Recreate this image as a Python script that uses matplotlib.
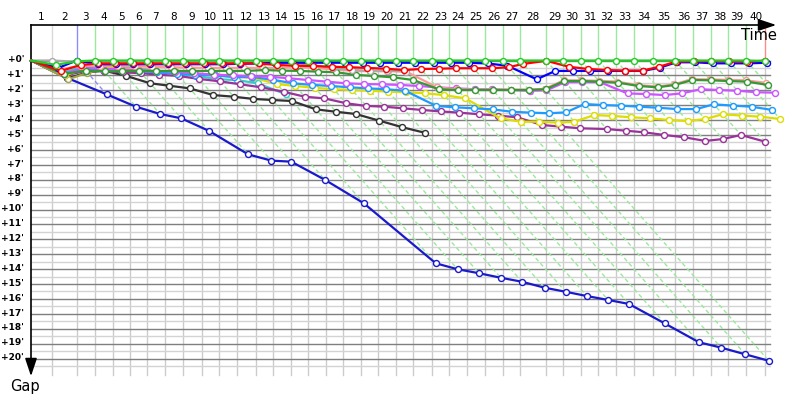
import numpy as np
import matplotlib
matplotlib.use("Agg")
import matplotlib.pyplot as plt
from matplotlib.colors import to_rgb

# ---------------- data ----------------
lap_labels = [str(i) for i in range(1, 41)]
# cumulative time of the lap leader at the end of each lap (minutes), lap 0 = start
leader_times = [0, 1.57, 3.46, 4.85, 6.19, 7.5, 8.77, 10.15, 11.49, 12.93, 14.27,
                15.63, 17.05, 18.31, 19.67, 21.01, 22.35, 23.66, 24.98, 26.31, 27.65,
                28.96, 30.36, 31.69, 33.01, 34.39, 35.74, 37.05, 39.02, 40.33, 41.64,
                42.98, 44.32, 45.68, 47.14, 48.79, 50.17, 51.49, 52.83, 54.17, 55.61]
gap_ticks = list(range(0, 21))
gap_tick_labels = ["+%d'" % m for m in gap_ticks]

# gap (minutes) to the leader at the end of each lap, starting at lap 0
gap_green = [0, 0.3, 0.05] + [0] * 37 + [0.03]
gap_red = [0, 0.7, 0.3, 0.2, 0.2, 0.2, 0.2, 0.2, 0.2, 0.2, 0.2, 0.2, 0.2, 0.3, 0.35,
           0.37, 0.42, 0.45, 0.5, 0.55, 0.64, 0.57, 0.55, 0.52, 0.52, 0.52, 0.45,
           0.23, 0.02, 0.42, 0.57, 0.64, 0.68, 0.68, 0.42, 0.08, 0.05, 0.05, 0.05,
           0.1, 0.0]
gap_blue = [0, 0.5, 0.0, 0.25, 0.25, 0.25, 0.25, 0.25, 0.25, 0.25, 0.25, 0.22, 0.2,
            0.15, 0.15, 0.15, 0.15, 0.15, 0.15, 0.15, 0.15, 0.15, 0.15, 0.15, 0.15,
            0.2, 0.35, 1.26, 0.7, 0.7, 0.7, 0.7, 0.7, 0.7, 0.48, 0.12, 0.12, 0.19,
            0.19, 0.19, 0.15]
gap_dark_green = [0, 0.9, 0.68, 0.72, 0.72, 0.7, 0.7, 0.7, 0.7, 0.7, 0.7, 0.7, 0.64,
                  0.68, 0.7, 0.75, 0.79, 0.97, 1.04, 1.13, 1.31, 1.93, 1.98, 1.98,
                  1.98, 1.98, 1.98, 1.93, 1.38, 1.38, 1.42, 1.49, 1.71, 1.8, 1.64,
                  1.31, 1.33, 1.38, 1.42, 1.64]
gap_grey = [0, 0.0, 0.08, 0.1, 0.1, 0.1, 0.1, 0.1, 0.1, 0.08, 0.1, 0.1, 0.1, 0.15,
            0.15, 0.3, 0.52, 0.64, 0.68, 0.68, 0.75]
gap_salmon = [0, 0.6, 0.35, 0.35, 0.38, 0.4, 0.42, 0.45, 0.48, 0.5, 0.5, 0.5, 0.5,
              0.5, 0.45, 0.5, 0.6, 0.7, 0.72, 0.72, 0.72, 1.8, 1.93, 1.95, 1.95,
              1.95, 1.95, 1.9, 1.33, 1.33, 1.36, 1.42, 1.65, 1.75, 1.6, 1.25, 1.27,
              1.3, 1.33, 1.5]
gap_violet = [0, 0.9, 0.5, 0.55, 0.6, 0.65, 0.7, 0.75, 0.85, 0.95, 1.0, 1.05, 1.09,
              1.19, 1.31, 1.42, 1.53, 1.58, 1.6, 1.64, 1.71, 1.8, 1.87, 1.93, 1.93,
              1.98, 2.03, 2.0, 1.45, 1.45, 1.45, 2.21, 2.25, 2.32, 2.2, 1.93, 1.98,
              2.03, 2.13, 2.16]
gap_light_blue = [0, 0.9, 0.55, 0.6, 0.65, 0.7, 0.8, 0.9, 0.95, 1.0, 1.1, 1.1, 1.3,
                  1.53, 1.64, 1.71, 1.8, 1.87, 1.93, 2.03, 3.05, 3.14, 3.21, 3.28,
                  3.44, 3.5, 3.54, 3.48, 2.92, 2.99, 3.03, 3.1, 3.17, 3.26, 3.26,
                  2.94, 3.03, 3.1, 3.32]
gap_yellow = [0, 1.0, 0.55, 0.5, 0.55, 0.6, 0.7, 0.8, 0.9, 0.95, 1.05, 1.13, 1.58,
              1.71, 1.83, 1.93, 1.98, 2.03, 2.09, 2.13, 2.2, 2.32, 2.54, 3.88, 4.11,
              4.11, 4.17, 4.11, 3.66, 3.72, 3.81, 3.88, 3.99, 4.06, 3.93, 3.61, 3.7,
              3.77, 3.93]
gap_purple = [0, 1.0, 0.7, 0.7, 0.8, 0.85, 0.95, 1.04, 1.24, 1.4, 1.6, 1.8, 2.1,
              2.43, 2.54, 2.87, 3.05, 3.1, 3.21, 3.32, 3.42, 3.5, 3.61, 3.7, 3.81,
              4.33, 4.44, 4.55, 4.6, 4.71, 4.82, 5.0, 5.15, 5.4, 5.27, 5.0, 5.45]
gap_cyan = [0, 0.82, 0.42, 0.45, 0.48, 0.52, 0.68, 0.91, 1.04, 1.26, 1.31, 1.53, 2.27]
gap_black = [0, 1.2, 0.8, 0.68, 1.04, 1.53, 1.69, 1.87, 2.32, 2.43, 2.58, 2.65, 2.72,
             3.28, 3.44, 3.59, 4.04, 4.48, 4.85]
gap_olive = [0, 1.26, 0.82, 0.6, 0.65, 0.7, 0.75, 0.8, 0.9, 1.0, 1.1, 1.15]
gap_dark_blue = [0, 1.17, 2.27, 3.1, 3.59, 3.88, 4.73, 6.30, 6.72, 6.79, 8.02, 9.58,
                 13.61, 14.01, 14.28, 14.58, 14.85, 15.25, 15.52, 15.81, 16.07,
                 16.34, 17.64, 18.91, 19.27, 19.72, 20.15]

# drawing order: back to front
series = [
    (gap_dark_blue, '#1a1acc'),
    (gap_black, '#333333'),
    (gap_olive, '#a3a345'),
    (gap_cyan, '#33cccc'),
    (gap_purple, '#993399'),
    (gap_yellow, '#dddd00'),
    (gap_light_blue, '#1e9bff'),
    (gap_violet, '#cc55ff'),
    (gap_salmon, '#ff9999'),
    (gap_dark_green, '#339933'),
    (gap_grey, '#aaaaaa'),
    (gap_blue, '#0000ff'),
    (gap_red, '#ff0000'),
    (gap_green, '#22cc22'),
]

# ---------------- layout ----------------
PX_PER_MIN_X = 13.2
PX_PER_MIN_Y = 14.9
X0_PX, Y0_PX = 31, 60.5
W_PX, H_PX = 800, 400

def tx(px):
    return (px - X0_PX) / PX_PER_MIN_X

def gy(px):
    return (px - Y0_PX) / PX_PER_MIN_Y

fig = plt.figure(figsize=(8, 4), dpi=100)
ax = fig.add_axes([0, 0, 1, 1])
ax.set_xlim(tx(0), tx(W_PX))
ax.set_ylim(gy(H_PX), gy(0))
ax.axis('off')

T_END = tx(770)
G_TOP = gy(25)
G_GRID_BOTTOM = gy(375)

def light(c, f=0.6):
    r, g, b = to_rgb(c)
    return (r + (1 - r) * f, g + (1 - g) * f, b + (1 - b) * f)

L = np.array(leader_times)

# horizontal grid
for m in gap_ticks:
    ax.plot([0, T_END], [m, m], color='#7f7f7f', lw=1.0, zorder=1)
    ax.plot([0, T_END], [m + 0.5, m + 0.5], color='#d3d3d3', lw=1.0, zorder=0.9)

# vertical grid, lap leader lines and lap diagonals
for n in range(1, len(L)):
    ax.plot([L[n], L[n]], [0, G_GRID_BOTTOM], color='#cccccc', lw=1.0, zorder=0.8)
    gaps_n = [(s[n], c) for s, c in series if len(s) > n]
    lead_gap, lead_col = min(gaps_n, key=lambda p: p[0])
    max_gap = max(p[0] for p in gaps_n)
    lc = light(lead_col, 0.55)
    ax.plot([L[n], L[n]], [G_TOP, 0], color=lc, lw=1.0, zorder=1.2)
    ax.plot([L[n], L[n] + max_gap], [0, max_gap], color=lc, lw=1.0,
            ls=(0, (3, 2)), zorder=1.3)

# lap labels
for n in range(1, len(L)):
    ax.text((L[n - 1] + L[n]) / 2, gy(17), lap_labels[n - 1], ha='center',
            va='center', fontsize=7.5, color='black')

# gap labels
for m, lab in zip(gap_ticks, gap_tick_labels):
    ax.text(tx(24), m - 0.05, lab, ha='right', va='center', fontsize=6.5,
            fontweight='bold', color='black')

# axes with arrows
ax.plot([0, tx(768)], [G_TOP, G_TOP], color='black', lw=1.2, zorder=5)
ax.annotate('', xy=(tx(779), G_TOP), xytext=(tx(765), G_TOP),
            arrowprops=dict(arrowstyle='-|>,head_length=0.9,head_width=0.3',
                            color='black', lw=1.2, mutation_scale=12), zorder=5)
ax.plot([0, 0], [G_TOP, gy(366)], color='black', lw=1.2, zorder=5)
ax.annotate('', xy=(0, gy(379)), xytext=(0, gy(364)),
            arrowprops=dict(arrowstyle='-|>,head_length=0.9,head_width=0.3',
                            color='black', lw=1.2, mutation_scale=12), zorder=5)
ax.text(tx(777), gy(35), 'Time', ha='right', va='center', fontsize=10.5)
ax.text(tx(25), gy(386), 'Gap', ha='center', va='center', fontsize=10.5)

# series
for k, (gaps, col) in enumerate(series):
    g = np.array(gaps)
    x = L[:len(g)] + g
    ax.plot(x, g, color=col, lw=1.6, marker='o', markersize=4.3,
            markerfacecolor='white', markeredgecolor=col, markeredgewidth=1.0,
            markevery=list(range(1, len(g))), zorder=10 + k)

fig.savefig('out.png', dpi=100)
